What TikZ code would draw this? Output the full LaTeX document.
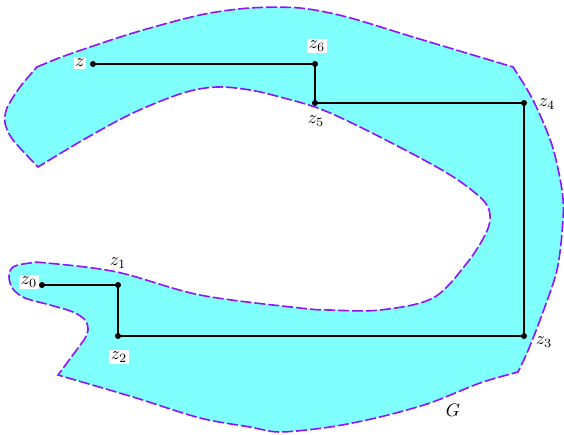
\documentclass[tikz,border=0pt]{standalone}
\definecolor{regionfill}{RGB}{128,255,255}
\definecolor{edgeviolet}{RGB}{140,20,255}
\tikzset{
  regionborder/.style={draw=edgeviolet, fill=regionfill, line width=1.6pt, dash pattern=on 11pt off 3pt},
  route/.style={draw=black, line width=1.4pt},
  vtx/.style={circle, fill=black, inner sep=0pt, minimum size=6pt},
  lbl/.style={inner sep=1pt, scale=1.8},
  boxlbl/.style={lbl, fill=white}
}
\begin{document}
\begin{tikzpicture}[x=1pt,y=-1pt]
\useasboundingbox (0,0) rectangle (564,434);
% region G
\path[regionborder]
  plot[smooth, tension=0.5] coordinates {(37,67) (67,55) (133,33) (200,15) (250,8) (300,8) (347,17) (413,37) (513,67)}
  -- plot[smooth, tension=0.5] coordinates {(513,67) (533,100) (552,145) (562,190) (563,220) (557,270) (540,320) (527,353) (518,372)}
  -- plot[smooth, tension=0.5] coordinates {(518,372) (480,383) (430,403) (380,417) (330,427) (280,432) (250,427) (200,418) (133,397) (58,375)}
  -- (84,340)
  -- plot[smooth, tension=0.55] coordinates {(84,340) (88,330) (85,320) (73,312) (50,305) (25,298) (13,289) (9,277) (13,267) (30,263) (47,263) (117,272) (200,295) (300,308) (330,310) (380,310) (433,298) (467,263) (486,233) (490,215) (482,199) (447,173) (380,137) (323,110) (280,97) (250,90) (217,87) (183,93) (133,113) (83,140) (38,167)}
  -- plot[smooth, tension=0.5] coordinates {(38,167) (13,140) (5,123) (7,108) (20,87) (37,67)}
  -- cycle;
% route vertices
\node[vtx] (z)  at (93,64) {};
\node[vtx] (z6) at (315,64) {};
\node[vtx] (z5) at (315,103) {};
\node[vtx] (z4) at (524,103) {};
\node[vtx] (z3) at (524,336) {};
\node[vtx] (z2) at (118,336) {};
\node[vtx] (z1) at (118,285) {};
\node[vtx] (z0) at (42,285) {};
\draw[route] (z.center) -- (z6.center) -- (z5.center) -- (z4.center) -- (z3.center) -- (z2.center) -- (z1.center) -- (z0.center);
% labels
\node[boxlbl] (lz)  at (80,63)   {$z$};
\node[boxlbl] (lz6) at (317,46)  {$z_6$};
\node[lbl]    (lz5) at (316,121) {$z_5$};
\node[lbl]    (lz4) at (547,104) {$z_4$};
\node[lbl]    (lz3) at (544,342) {$z_3$};
\node[boxlbl] (lz2) at (119,357) {$z_2$};
\node[lbl]    (lz1) at (118,263) {$z_1$};
\node[boxlbl] (lz0) at (29,282)  {$z_0$};
\node[lbl]    (lG)  at (453,410) {$G$};
\end{tikzpicture}
\end{document}
